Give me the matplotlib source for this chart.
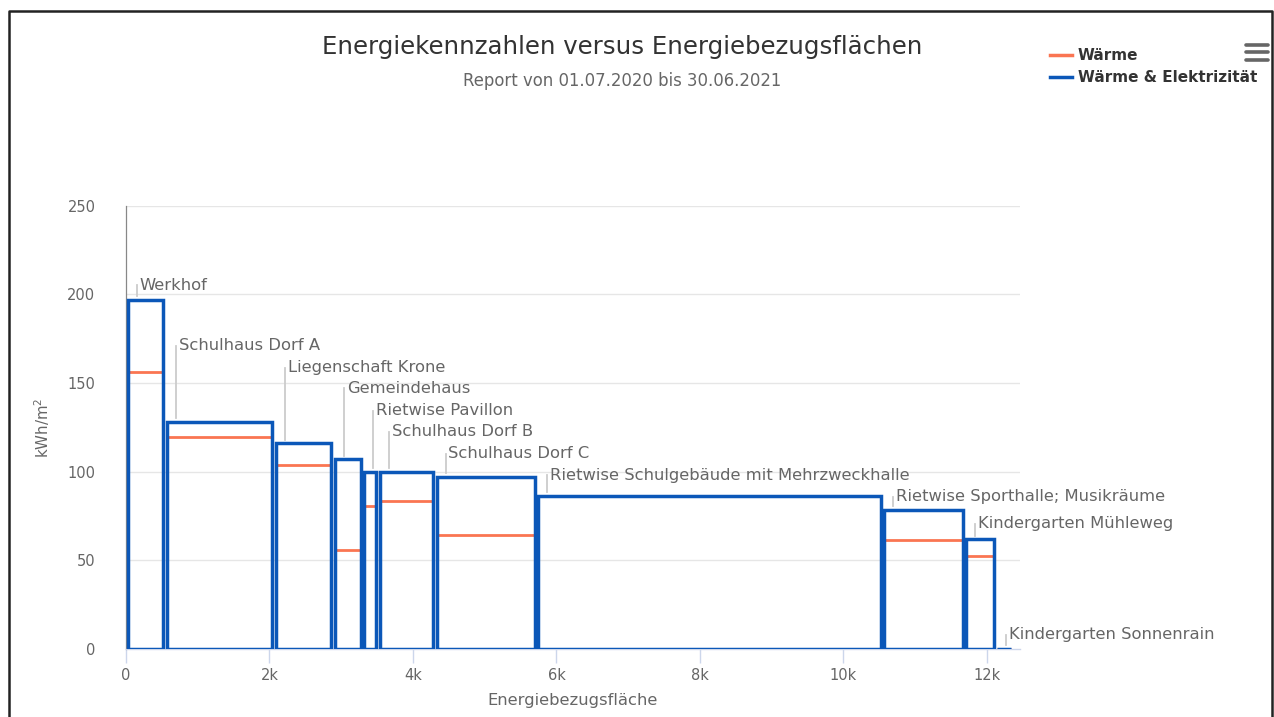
import matplotlib
matplotlib.use("Agg")
import matplotlib.pyplot as plt
from matplotlib.patches import Rectangle
from matplotlib.lines import Line2D
import numpy as np

plt.rcParams["font.family"] = ["DejaVu Sans"]

BLUE, RED, GRID, AXIS, TXT, DARK = "#0b57b8", "#fa7552", "#e6e6e6", "#ccd6eb", "#666666", "#333333"

# data
names = ["Werkhof", "Schulhaus Dorf A", "Liegenschaft Krone", "Gemeindehaus", "Rietwise Pavillon",
         "Schulhaus Dorf B", "Schulhaus Dorf C", "Rietwise Schulgebäude mit Mehrzweckhalle",
         "Rietwise Sporthalle; Musikräume", "Kindergarten Mühleweg", "Kindergarten Sonnenrain"]
area = [543, 1518, 826, 410, 217, 790, 1416, 4823, 1142, 432, 237]          # m2
total = [197, 128, 116, 107, 100, 100, 97, 86.5, 78.5, 62, 0]               # Wärme & Elektrizität
heat = [156, 119.5, 103.5, 56, 80.5, 83.5, 64.5, 0, 61.5, 52.5, 0]          # Wärme
label_y = [205, 171, 158.5, 147, 134.5, 122.5, 110, 98, 86, 70.5, 8]        # label anchors

W, H = 1274, 717
fig = plt.figure(figsize=(W / 100, H / 100), dpi=100)
ax = fig.add_axes([126 / W, (H - 649) / H, (1020 - 126) / W, (649 - 205.7) / H])

left = np.concatenate([[0], np.cumsum(area)[:-1]])
inset = 24
ax.set_xlim(0, 12460)
ax.set_ylim(0, 250)

for y in range(50, 251, 50):
    ax.axhline(y, color=GRID, lw=1, zorder=0)

for l, w, h in zip(left, area, heat):
    ax.plot([l + inset, l + w - inset], [h, h], color=RED, lw=2, zorder=2, solid_capstyle="butt")
for l, w, t in zip(left, area, total):
    ax.add_patch(Rectangle((l + inset, 0), w - 2 * inset, t, fill=False, ec=BLUE, lw=2.5,
                           zorder=3, joinstyle="miter"))

# data labels with connectors
for l, t, ly, n in zip(left, total, label_y, names):
    cx = l + 150
    ax.plot([cx, cx], [t + 2, ly], color="#cccccc", lw=1.3, zorder=1, clip_on=False)
    ax.text(cx + 40, ly, n, ha="left", va="center", fontsize=11.8, color=TXT, zorder=4, clip_on=False)

for s in ["top", "right"]:
    ax.spines[s].set_visible(False)
ax.spines["left"].set_color("#888888"); ax.spines["left"].set_linewidth(0.9)
ax.spines["bottom"].set_color(AXIS); ax.spines["bottom"].set_linewidth(1)
ax.set_xticks(np.arange(0, 12001, 2000))
ax.set_xticklabels(["0"] + [f"{k}k" for k in range(2, 13, 2)])
ax.set_yticks(np.arange(0, 251, 50))
ax.tick_params(axis="x", colors=AXIS, labelcolor=TXT, length=10, width=1, labelsize=10.5, pad=4)
ax.tick_params(axis="y", length=0, labelcolor=TXT, labelsize=10.5, pad=22)
ax.set_xlabel("Energiebezugsfläche", fontsize=11.8, color=TXT, labelpad=7)
ax.set_ylabel("kWh/m$^2$", fontsize=10.8, color=TXT, labelpad=11)

fig.text(622 / W, 1 - 47 / H, "Energiekennzahlen versus Energiebezugsflächen", ha="center", va="center",
         fontsize=17.6, color=DARK)
fig.text(622 / W, 1 - 81 / H, "Report von 01.07.2020 bis 30.06.2021", ha="center", va="center",
         fontsize=11.9, color=TXT)

# legend
for yy, c, lab in [(55, RED, "Wärme"), (77, BLUE, "Wärme & Elektrizität")]:
    fig.add_artist(Line2D([1050 / W, 1072 / W], [1 - yy / H] * 2, color=c, lw=2.5))
    fig.text(1078 / W, 1 - yy / H, lab, ha="left", va="center", fontsize=11, color=DARK, fontweight="bold")

# menu icon
for yy in [45, 52.3, 60]:
    fig.add_artist(Line2D([1246 / W, 1268 / W], [1 - yy / H] * 2, color=TXT, lw=2.6, solid_capstyle="round"))

# frame
fig.add_artist(Line2D([9 / W, 9 / W, 1272 / W, 1272 / W], [0, 1 - 11 / H, 1 - 11 / H, 0], color="#222222", lw=1.8))

fig.savefig("out.png", dpi=100)
